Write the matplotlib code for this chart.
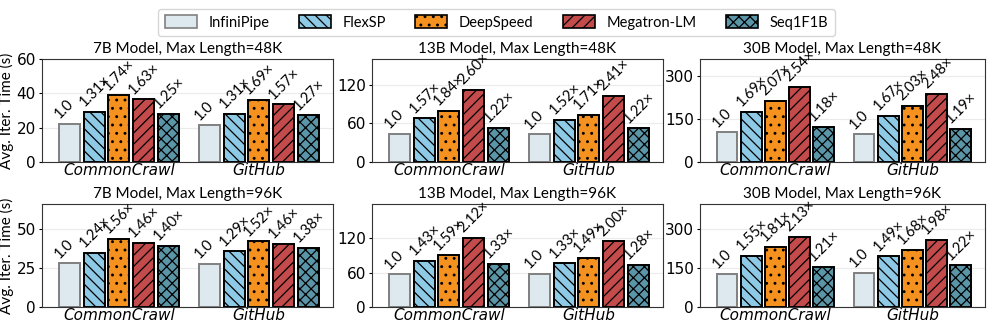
import matplotlib
matplotlib.use("Agg")
import matplotlib.pyplot as plt
import numpy as np
from matplotlib.patches import Patch

methods = ["InfiniPipe", "FlexSP", "DeepSpeed", "Megatron-LM", "Seq1F1B"]
datasets = ["CommonCrawl", "GitHub"]
titles = ["7B Model, Max Length=48K", "13B Model, Max Length=48K", "30B Model, Max Length=48K",
          "7B Model, Max Length=96K", "13B Model, Max Length=96K", "30B Model, Max Length=96K"]

# values[panel][dataset] -> per-method times (s)
p1 = [[22.4, 29.3, 38.8, 36.5, 28.0], [21.4, 28.0, 36.2, 33.6, 27.2]]
p2 = [[43.3, 68.0, 79.7, 112.6, 52.8], [42.8, 65.0, 73.2, 103.1, 52.2]]
p3 = [[103.5, 175.0, 214.0, 263.0, 122.0], [96.5, 161.0, 196.0, 239.0, 115.0]]
p4 = [[28.0, 34.7, 43.7, 40.9, 39.2], [27.6, 35.6, 42.0, 40.3, 38.1]]
p5 = [[56.8, 81.2, 90.3, 120.4, 75.5], [57.4, 76.3, 85.5, 114.8, 73.5]]
p6 = [[127.0, 197.0, 230.0, 270.5, 153.7], [131.0, 195.0, 220.0, 259.0, 160.0]]

l1 = [["1.0", "1.31×", "1.74×", "1.63×", "1.25×"], ["1.0", "1.31×", "1.69×", "1.57×", "1.27×"]]
l2 = [["1.0", "1.57×", "1.84×", "2.60×", "1.22×"], ["1.0", "1.52×", "1.71×", "2.41×", "1.22×"]]
l3 = [["1.0", "1.69×", "2.07×", "2.54×", "1.18×"], ["1.0", "1.67×", "2.03×", "2.48×", "1.19×"]]
l4 = [["1.0", "1.24×", "1.56×", "1.46×", "1.40×"], ["1.0", "1.29×", "1.52×", "1.46×", "1.38×"]]
l5 = [["1.0", "1.43×", "1.59×", "2.12×", "1.33×"], ["1.0", "1.33×", "1.49×", "2.00×", "1.28×"]]
l6 = [["1.0", "1.55×", "1.81×", "2.13×", "1.21×"], ["1.0", "1.49×", "1.68×", "1.98×", "1.22×"]]

panels = [p1, p2, p3, p4, p5, p6]
labels = [l1, l2, l3, l4, l5, l6]
ylims = [60, 160, 360, 66, 180, 396]
yticks = [[0, 20, 40, 60], [0, 60, 120], [0, 150, 300], [0, 25, 50], [0, 60, 120], [0, 150, 300]]

colors = ["#dde9ef", "#8ecae6", "#f5911e", "#c44b4b", "#5b95a8"]
hatches = ["", "\\\\\\", "..", "///", "xxx"]
edges = ["#808080", "black", "black", "black", "black"]

plt.rcParams["hatch.linewidth"] = 0.9
plt.rcParams["font.family"] = ["Lato", "DejaVu Sans"]

fig = plt.figure(figsize=(9.96, 3.28), dpi=100)
W, H = 996.0, 328.0
lefts = [42, 372, 700]
rights = [333, 663, 985]
tops = [59, 204]
bottoms = [162, 307]

slot = 0.176
bw = 0.15
for i in range(6):
    r, c = divmod(i, 3)
    ax = fig.add_axes([lefts[c] / W, 1 - bottoms[r] / H, (rights[c] - lefts[c]) / W, (bottoms[r] - tops[r]) / H])
    ax.set_axisbelow(True)
    ax.yaxis.grid(True, color="#ebebeb", linewidth=0.8)
    for d in range(2):
        for m in range(5):
            x = d + (m - 2) * slot
            v = panels[i][d][m]
            ax.bar(x, v, width=bw, color=colors[m], edgecolor=edges[m], hatch=hatches[m], linewidth=1.4)
            ax.text(x - 0.055, v + ylims[i] * 0.025, labels[i][d][m], rotation=45, ha="left", va="bottom",
                    fontsize=10.5, rotation_mode="anchor")
    ax.set_xlim(-0.55, 1.53)
    ax.set_ylim(0, ylims[i])
    ax.set_yticks(yticks[i])
    ax.set_xticks([0, 1])
    ax.set_xticklabels(datasets, fontsize=11, style="italic", family="DejaVu Sans")
    ax.tick_params(axis="y", labelsize=11, length=2.5, pad=2)
    for t in ax.get_yticklabels():
        t.set_family("DejaVu Sans")
    ax.tick_params(axis="x", length=0, pad=1)
    ax.set_title(titles[i], fontsize=11, pad=4)
    for s in ax.spines.values():
        s.set_linewidth(0.8)
        s.set_color("#333333")
    if c == 0:
        ax.set_ylabel("Avg. Iter. Time (s)", fontsize=11, labelpad=2)

handles = [Patch(facecolor=colors[m], edgecolor=edges[m], hatch=hatches[m], linewidth=1.2, label=methods[m])
           for m in range(5)]
fig.legend(handles=handles, loc="upper center", bbox_to_anchor=(0.4985, 0.995), ncol=5, fontsize=10.5,
           frameon=True, handlelength=2.2, handleheight=0.9, columnspacing=2.0, borderpad=0.45,
           handletextpad=0.8)

fig.savefig("out.png", dpi=100)
